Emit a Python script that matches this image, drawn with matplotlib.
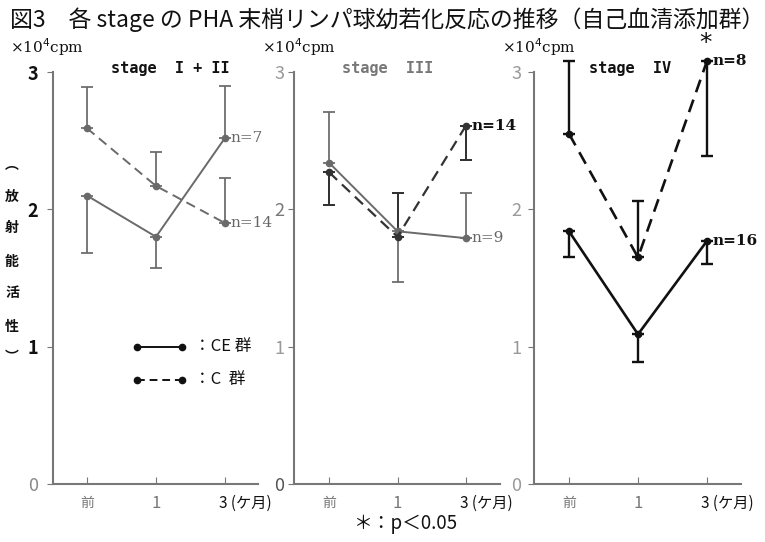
import matplotlib
matplotlib.use("Agg")
import matplotlib.pyplot as plt
import numpy as np

plt.rcParams['font.family'] = ['Noto Sans CJK JP', 'DejaVu Sans']

W, H = 765, 542

x_labels = ["前", "1", "3"]
stages = ["stage  I + II", "stage  III", "stage  IV"]

# stage I+II
ce_12 = [2.10, 1.80, 2.52]
ce_12_err_end = [1.68, 1.57, 2.90]
c_12 = [2.59, 2.17, 1.90]
c_12_err_end = [2.89, 2.42, 2.23]
# stage III
ce_3 = [2.34, 1.84, 1.79]
ce_3_err_end = [2.71, 1.47, 2.12]
c_3 = [2.27, 1.80, 2.61]
c_3_err_end = [2.03, 2.12, 2.36]
# stage IV
ce_4 = [1.84, 1.09, 1.77]
ce_4_err_end = [1.65, 0.89, 1.60]
c_4 = [2.55, 1.65, 3.08]
c_4_err_end = [3.08, 2.06, 2.39]

n_ce = ["n=7", "n=9", "n=16"]
n_c = ["n=14", "n=14", "n=8"]

fig = plt.figure(figsize=(W / 100, H / 100), dpi=100)

def fx(px):
    return px / W

def fy(py):
    return 1 - py / H

panels = [
    dict(left=53, right=258, t0=87, t2=225, ce=ce_12, cee=ce_12_err_end, c=c_12, ce_col="#6a6a6a",
         c_col="#6a6a6a", ce_lw=1.4, c_lw=1.4, pad=7, ylab_col=["#888888", "#111111", "#111111", "#111111"]),
    dict(left=294, right=500, t0=329, t2=466, ce=ce_3, cee=ce_3_err_end, c=c_3, ce_col="#6a6a6a",
         c_col="#333333", ce_lw=1.4, c_lw=1.6, pad=3, ylab_col=["#555555", "#999999", "#777777", "#999999"]),
    dict(left=534, right=741, t0=569, t2=707, ce=ce_4, cee=ce_4_err_end, c=c_4, ce_col="#111111",
         c_col="#111111", ce_lw=1.9, c_lw=1.9, pad=5, ylab_col=["#999999", "#999999", "#999999", "#999999"]),
]
c_errs = [c_12_err_end, c_3_err_end, c_4_err_end]

y_top, y_bot = 72, 484
x = np.arange(3)
axes = []
for i, p in enumerate(panels):
    ax = fig.add_axes([fx(p['left']), fy(y_bot), fx(p['right'] - p['left']), (y_bot - y_top) / H])
    sp = (p['t2'] - p['t0']) / 2
    ax.set_xlim(-(p['t0'] - p['left']) / sp, 2 + (p['right'] - p['t2']) / sp)
    ax.set_ylim(0, 3)
    for s in ['top', 'right']:
        ax.spines[s].set_visible(False)
    for s in ['left', 'bottom']:
        ax.spines[s].set_color("#777777")
        ax.spines[s].set_linewidth(1.5)
    ax.set_yticks([0, 1, 2, 3])
    ax.set_yticklabels(["0", "1", "2", "3"], fontsize=13)
    for lbl, col in zip(ax.get_yticklabels(), p['ylab_col']):
        lbl.set_color(col)
        if col == "#111111":
            lbl.set_fontweight('bold')
    ax.tick_params(axis='y', direction='out', length=4, color="#777777", pad=p['pad'])
    ax.set_xticks(x)
    ax.set_xticklabels(["", "", ""])
    ax.tick_params(axis='x', direction='in', length=5, color="#777777")
    ax.patch.set_alpha(0)

    ce = np.array(p['ce']); cee = np.array(p['cee'])
    c = np.array(p['c']); cer = np.array(c_errs[i])
    ce_lo = np.where(cee < ce, ce - cee, 0); ce_hi = np.where(cee > ce, cee - ce, 0)
    c_lo = np.where(cer < c, c - cer, 0); c_hi = np.where(cer > c, cer - c, 0)
    ax.errorbar(x, ce, yerr=[ce_lo, ce_hi], fmt='none', ecolor=p['ce_col'], elinewidth=p['ce_lw'] * 0.9,
                capsize=4.5, capthick=p['ce_lw'] * 0.9, clip_on=False)
    ax.errorbar(x, c, yerr=[c_lo, c_hi], fmt='none', ecolor=p['c_col'], elinewidth=p['c_lw'] * 0.9,
                capsize=4.5, capthick=p['c_lw'] * 0.9, clip_on=False)
    ax.plot(x, ce, '-', color=p['ce_col'], lw=p['ce_lw'], marker='o', ms=4.5, clip_on=False)
    ax.plot(x, c, '--', color=p['c_col'], lw=p['c_lw'], marker='o', ms=4.5, dashes=(5, 3), clip_on=False)
    axes.append(ax)

    # x tick labels
    for j, lab in enumerate(x_labels):
        tx = p['t0'] + j * sp
        if j == 2:
            fig.text(fx(tx - 6), fy(503), "3 (ケ月)", fontsize=11, ha='left', va='center', color="#111111")
        else:
            fig.text(fx(tx), fy(503), lab, fontsize=10 if j == 0 else 12, ha='center', va='center',
                     color="#777777")

# n labels
ax1, ax2, ax3 = axes
ax1.annotate(n_ce[0], (2, ce_12[2]), xytext=(4, 0), textcoords='offset points', fontsize=11,
             va='center', color="#666666", family=['DejaVu Serif'])
ax1.annotate(n_c[0], (2, c_12[2]), xytext=(4, 0), textcoords='offset points', fontsize=11,
             va='center', color="#666666", family=['DejaVu Serif'], annotation_clip=False)
ax2.annotate(n_c[1], (2, c_3[2]), xytext=(4, 0), textcoords='offset points', fontsize=11,
             va='center', color="#111111", family=['DejaVu Serif'], fontweight='bold', annotation_clip=False)
ax2.annotate(n_ce[1], (2, ce_3[2]), xytext=(4, 0), textcoords='offset points', fontsize=11,
             va='center', color="#666666", family=['DejaVu Serif'], annotation_clip=False)
ax3.annotate(n_c[2], (2, c_4[2]), xytext=(4, 0), textcoords='offset points', fontsize=11,
             va='center', color="#111111", family=['DejaVu Serif'], fontweight='bold', annotation_clip=False)
ax3.annotate(n_ce[2], (2, ce_4[2]), xytext=(4, 0), textcoords='offset points', fontsize=11,
             va='center', color="#111111", family=['DejaVu Serif'], fontweight='bold', annotation_clip=False)
ax3.annotate("*", (2, c_4[2]), xytext=(-1, 4), textcoords='offset points', fontsize=18,
             ha='center', va='bottom', color="#111111", family=['DejaVu Sans'], annotation_clip=False)

# title
fig.text(fx(10), fy(20), "図3　各 stage の PHA 末梢リンパ球幼若化反応の推移（自己血清添加群）",
         fontsize=16.5, ha='left', va='center', color="#111111")

# units
for ux in [10, 262, 502]:
    fig.text(fx(ux), fy(47), "×10$^{4}$cpm", fontsize=11, ha='left', va='center', color="#111111",
             family=['DejaVu Serif'])

# stage titles
for sx, s, col in [(170, "stage  I + II", "#111111"), (388, "stage  III", "#777777"), (630, "stage  IV", "#111111")]:
    fig.text(fx(sx), fy(68), s, fontsize=11, ha='center', va='center', color=col, fontweight='bold',
             family=['DejaVu Sans Mono'])

# y label (vertical)
for ch, yy in zip(["︵", "放", "射", "能", "活", "性", "︶"], [165, 197, 228, 262, 293, 327, 357]):
    fig.text(fx(12), fy(yy), ch, fontsize=10, ha='center', va='center', color="#111111", fontweight='bold')

# legend
ax1.plot([0.72, 1.38], [1.0, 1.0], '-', color="#111111", lw=1.4, marker='o', ms=4.5)
ax1.plot([0.72, 1.38], [0.76, 0.76], '--', color="#111111", lw=1.4, marker='o', ms=4.5, dashes=(4, 2.5))
ax1.text(1.55, 1.0, "：CE 群", fontsize=12, va='center', color="#111111")
ax1.text(1.55, 0.76, "：C  群", fontsize=12, va='center', color="#111111")

# footnote
fig.text(fx(405), fy(524), "＊：p＜0.05", fontsize=13.5, ha='center', va='center', color="#111111")

fig.savefig("out.png", dpi=100)
